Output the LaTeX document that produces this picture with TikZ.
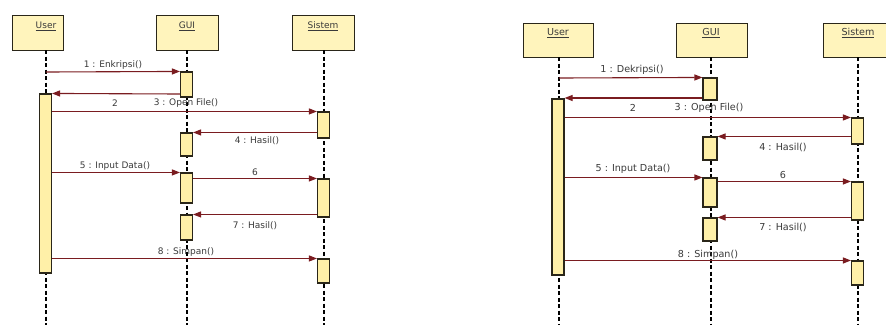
\documentclass[tikz,border=0pt]{standalone}
\usepackage{fontspec}
\setmainfont{DejaVu Sans}
\usetikzlibrary{arrows.meta}
\definecolor{boxfill}{HTML}{FFF4BC}
\definecolor{actfill}{HTML}{FFF0A8}
\definecolor{edge}{HTML}{2A2619}
\definecolor{msgred}{HTML}{7A1C20}
\definecolor{txt}{HTML}{3A3A3A}
\tikzset{
  objbox/.style={draw=edge, line width=1.1pt, fill=boxfill, inner sep=0pt, anchor=north west, text=txt},
  actbox/.style={draw=edge, line width=1.1pt, fill=actfill, inner sep=0pt, minimum width=12pt},
  lifeline/.style={draw=black, line width=1.1pt, dash pattern=on 4pt off 2.5pt},
  msg/.style={draw=msgred, line width=1.1pt, -{Triangle[length=8pt,width=6pt]}},
  lblL/.style={text=txt, font=\fontsize{9}{10}\selectfont, inner sep=0pt},
  lblR/.style={text=txt, font=\fontsize{9.6}{10}\selectfont, inner sep=0pt},
}
\begin{document}
\begin{tikzpicture}[x=1pt,y=-1pt]
\useasboundingbox (0,0) rectangle (886,325);
\clip (0,0) rectangle (886,325);
\fill[white] (0,0) rectangle (886,325);

% ================= LEFT DIAGRAM =================
\node[objbox, minimum width=51pt, minimum height=35pt] (LU) at (12,15) {};
\node[objbox, minimum width=62pt, minimum height=35pt] (LG) at (156,15) {};
\node[objbox, minimum width=62pt, minimum height=35pt] (LS) at (292,15) {};
\node[lblL] (LUt) at (46,26) {\underline{User}};
\node[lblL] (LGt) at (187,26) {\underline{GUI}};
\node[lblL] (LSt) at (323,26) {\underline{Sistem}};

\coordinate (LUb) at (46,50);
\coordinate (LGb) at (187,50);
\coordinate (LSb) at (324,50);
\coordinate (LUe) at (46,325);
\coordinate (LGe) at (187,325);
\coordinate (LSe) at (324,325);
\draw[lifeline] (LUb) -- (LUe);
\draw[lifeline] (LGb) -- (LGe);
\draw[lifeline] (LSb) -- (LSe);

\node[actbox, minimum height=179pt] (LuA) at (45.5,183.5) {};
\node[actbox, minimum height=25pt] (Lg1) at (186.5,84.5) {};
\node[actbox, minimum height=23pt] (Lg2) at (186.5,144.5) {};
\node[actbox, minimum height=30pt] (Lg3) at (186.5,188) {};
\node[actbox, minimum height=25pt] (Lg4) at (186.5,227.5) {};
\node[actbox, minimum height=26pt] (Ls1) at (323.5,125) {};
\node[actbox, minimum height=38pt] (Ls2) at (323.5,198) {};
\node[actbox, minimum height=24pt] (Ls3) at (323.5,271) {};

\coordinate (Lm1) at (46,72);
\draw[msg] (Lm1) -- (Lg1.north west);
\draw[msg] (Lg1.west |- 0,94) -- (LuA.north east);
\draw[msg] (LuA.east |- Ls1.north) -- (Ls1.north west);
\draw[msg] (Ls1.west |- Lg2.north) -- (Lg2.north east);
\draw[msg] (LuA.east |- Lg3.north) -- (Lg3.north west);
\draw[msg] (Lg3.east |- Ls2.north) -- (Ls2.north west);
\draw[msg] (Ls2.west |- Lg4.north) -- (Lg4.north east);
\draw[msg] (LuA.east |- Ls3.north) -- (Ls3.north west);

\node[lblL] (Ll1) at (113,65) {1 : Enkripsi()};
\node[lblL] (Ll2) at (115,103) {2};
\node[lblL] (Ll3) at (186,103) {3 : Open File()};
\node[lblL] (Ll4) at (257,141) {4 : Hasil()};
\node[lblL] (Ll5) at (115,166) {5 : Input Data()};
\node[lblL] (Ll6) at (255,172) {6};
\node[lblL] (Ll7) at (255,226) {7 : Hasil()};
\node[lblL] (Ll8) at (186,252) {8 : Simpan()};

% ================= RIGHT DIAGRAM =================
\node[objbox, minimum width=70pt, minimum height=34pt] (RU) at (523,23) {};
\node[objbox, minimum width=71pt, minimum height=34pt] (RG) at (676,23) {};
\node[objbox, minimum width=70pt, minimum height=34pt] (RS) at (823,23) {};
\node[lblR] (RUt) at (558,33) {\underline{User}};
\node[lblR] (RGt) at (711,33) {\underline{GUI}};
\node[lblR] (RSt) at (858,33) {\underline{Sistem}};

\coordinate (RUb) at (559,57);
\coordinate (RGb) at (711,57);
\coordinate (RSb) at (858,57);
\coordinate (RUe) at (559,325);
\coordinate (RGe) at (711,325);
\coordinate (RSe) at (858,325);
\draw[lifeline] (RUb) -- (RUe);
\draw[lifeline] (RGb) -- (RGe);
\draw[lifeline] (RSb) -- (RSe);

\node[actbox, minimum height=176pt] (RuA) at (558,187) {};
\node[actbox, minimum width=14pt, minimum height=22pt] (Rg1) at (710,89) {};
\node[actbox, minimum width=14pt, minimum height=23pt] (Rg2) at (710,148.5) {};
\node[actbox, minimum width=14pt, minimum height=29pt] (Rg3) at (710,192.5) {};
\node[actbox, minimum width=14pt, minimum height=23pt] (Rg4) at (710,229.5) {};
\node[actbox, minimum height=26pt] (Rs1) at (857.5,131) {};
\node[actbox, minimum height=38pt] (Rs2) at (857.5,201) {};
\node[actbox, minimum height=24pt] (Rs3) at (857.5,273) {};

\coordinate (Rm1) at (559,78);
\draw[msg] (Rm1) -- (Rg1.north west);
\draw[msg] (Rg1.west |- 0,98) -- (RuA.east |- 0,98);
\draw[msg] (RuA.east |- Rs1.north) -- (Rs1.north west);
\draw[msg] (Rs1.west |- Rg2.north) -- (Rg2.north east);
\draw[msg] (RuA.east |- Rg3.north) -- (Rg3.north west);
\draw[msg] (Rg3.east |- Rs2.north) -- (Rs2.north west);
\draw[msg] (Rs2.west |- Rg4.north) -- (Rg4.north east);
\draw[msg] (RuA.east |- Rs3.north) -- (Rs3.north west);

\node[lblR] (Rl1) at (632,70) {1 : Dekripsi()};
\node[lblR] (Rl2) at (633,108) {2};
\node[lblR] (Rl3) at (709,108) {3 : Open File()};
\node[lblR] (Rl4) at (783,147) {4 : Hasil()};
\node[lblR] (Rl5) at (633,169) {5 : Input Data()};
\node[lblR] (Rl6) at (783,175) {6};
\node[lblR] (Rl7) at (783,227) {7 : Hasil()};
\node[lblR] (Rl8) at (708,255) {8 : Simpan()};
\end{tikzpicture}
\end{document}
